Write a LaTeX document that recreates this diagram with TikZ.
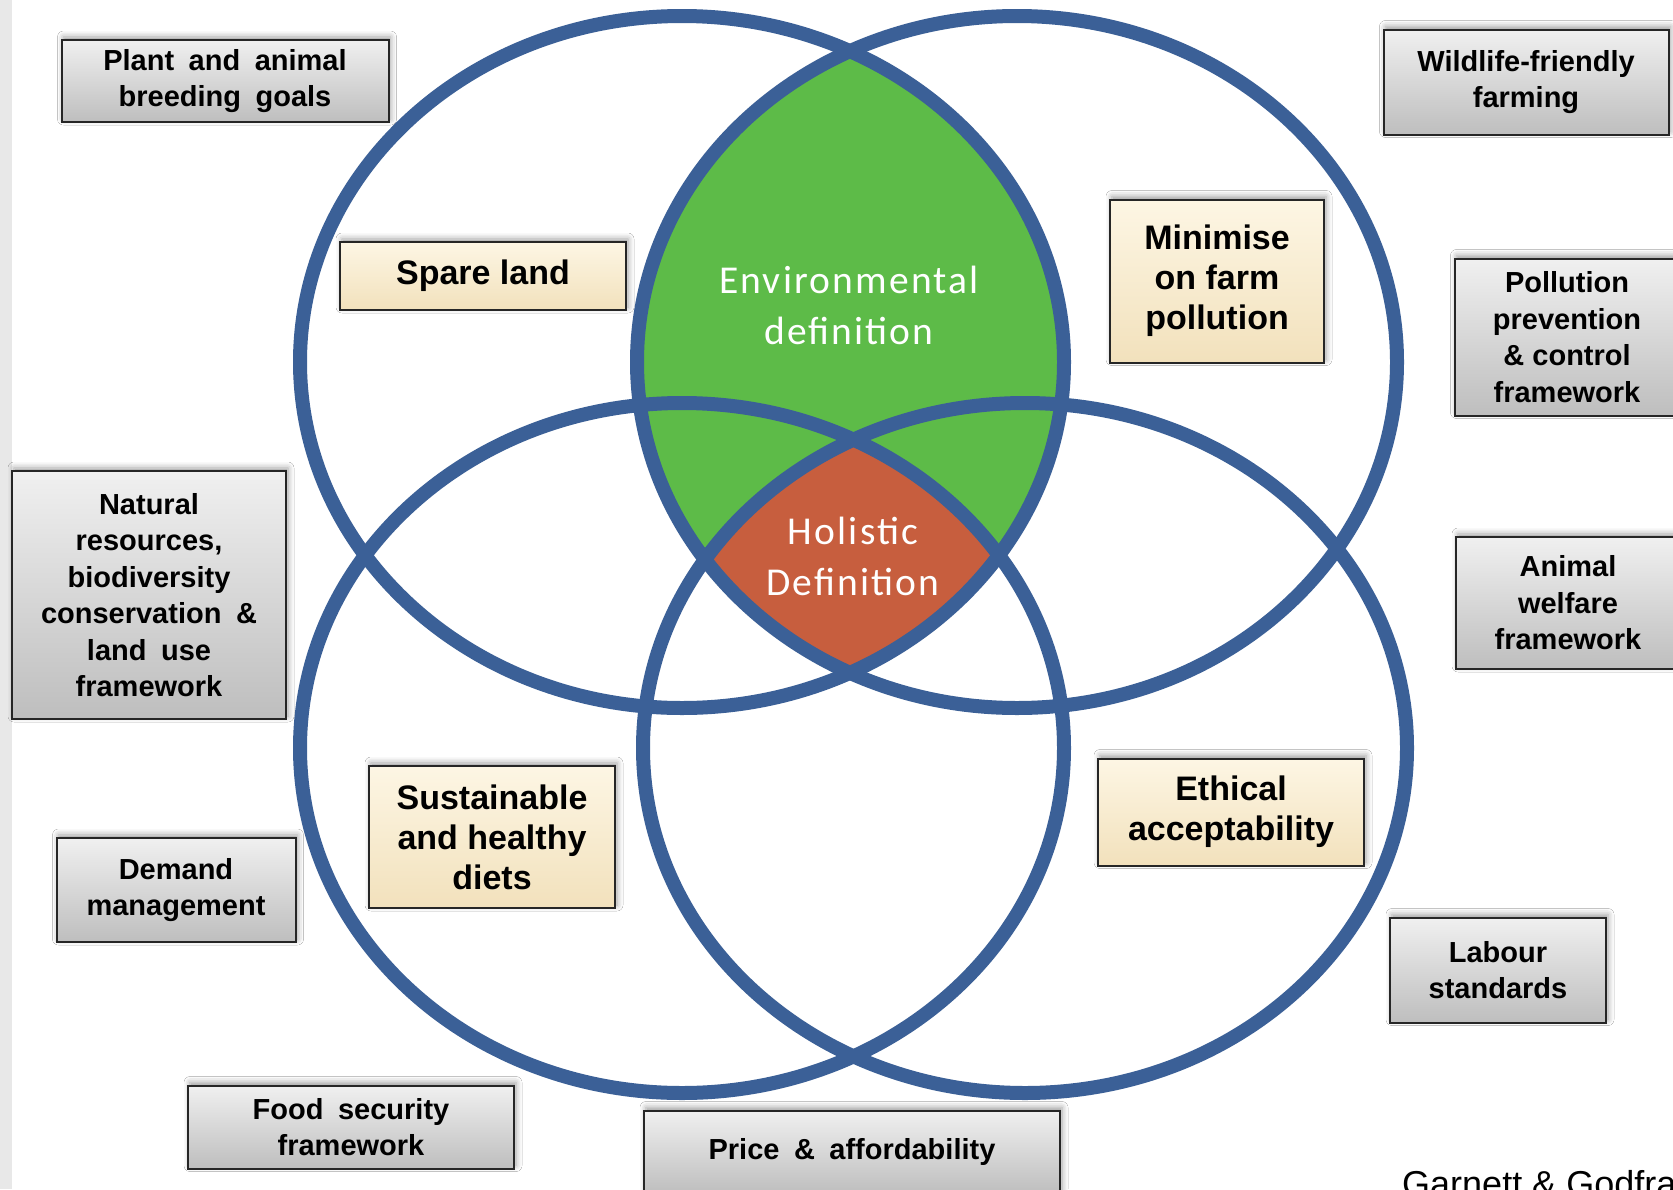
\documentclass[tikz,border=0pt]{standalone}
\usepackage{fontspec}
\setmainfont{Liberation Sans}
\newfontfamily\vennfont[LetterSpace=5.5]{Carlito}
\usetikzlibrary{shadows.blur}

\definecolor{ringblue}{RGB}{59,96,151}
\definecolor{envgreen}{RGB}{93,187,72}
\definecolor{holred}{RGB}{199,94,62}
\definecolor{beigetop}{RGB}{253,246,228}
\definecolor{beigebot}{RGB}{242,225,188}
\definecolor{greytop}{RGB}{240,240,240}
\definecolor{greybot}{RGB}{190,190,190}

\newcommand{\widespaces}{\spaceskip=.5em\relax}
\newcommand{\TopLeft}{(682,362) ellipse [x radius=382, y radius=346]}
\newcommand{\TopRight}{(1017,362) ellipse [x radius=380, y radius=346]}
\newcommand{\BotLeft}{(682,748) ellipse [x radius=382, y radius=345]}
\newcommand{\BotRight}{(1025,748) ellipse [x radius=382, y radius=345]}

\tikzstyle{ring} = [draw=ringblue, line width=14pt]
\tikzstyle{tagbox} = [draw=black!85, line width=2pt, align=center, inner sep=0pt, text=black,
  blur shadow={shadow xshift=2pt, shadow yshift=3pt, shadow blur radius=6pt, shadow opacity=40}]
\tikzstyle{outerbox} = [tagbox, top color=greytop, bottom color=greybot,
  font=\fontsize{29}{36.5}\selectfont\bfseries\widespaces]
\tikzstyle{innerbox} = [tagbox, top color=beigetop, bottom color=beigebot,
  font=\fontsize{34}{40}\selectfont\bfseries]
\tikzstyle{venntext} = [text=white, align=center, font=\vennfont\fontsize{39.5}{51}\selectfont]

\begin{document}
\begin{tikzpicture}[x=1pt, y=-1pt]
\useasboundingbox (0,0) rectangle (1673,1189);
\clip (0,0) rectangle (1673,1189);
\fill[white] (0,0) rectangle (1673,1189);
\fill[black!9] (0,0) rectangle (12,1189);

% shared areas
\begin{scope}
  \clip \TopLeft;
  \fill[envgreen] \TopRight;
\end{scope}
\begin{scope}
  \clip \TopLeft; \clip \TopRight; \clip \BotLeft;
  \fill[holred] \BotRight;
\end{scope}

% rings
\draw[ring] \TopLeft;
\draw[ring] \TopRight;
\draw[ring] \BotLeft;
\draw[ring] \BotRight;

\node[venntext] (envdef) at (849,305) {Environmental\\definition};
\node[venntext] (holdef) at (853,556) {Holistic\\Definition};

% inside the rings
\node[innerbox, minimum width=286pt, minimum height=68pt] (spare) at (483,276) {Spare land};
\node[innerbox, minimum width=214pt, minimum height=163pt] (minimise) at (1217,281) {Minimise\\on farm\\pollution};
\node[innerbox, minimum width=246pt, minimum height=142pt] (diets) at (492,837) {Sustainable\\and healthy\\diets};
\node[innerbox, minimum width=266pt, minimum height=107pt] (ethical) at (1231,812) {Ethical\\acceptability};

% frameworks round the edge
\node[outerbox, minimum width=327pt, minimum height=82pt] (breeding) at (225,81) {Plant and animal\\breeding goals};
\node[outerbox, minimum width=285pt, minimum height=105pt] (wildlife) at (1526,82) {Wildlife-friendly\\farming};
\node[outerbox, minimum width=225pt, minimum height=157pt] (pollution) at (1567,337) {Pollution\\prevention\\\&\hspace{.28em}control\\framework};
\node[outerbox, minimum width=274pt, minimum height=248pt] (natural) at (149,595) {Natural\\resources,\\biodiversity\\conservation \&\\land use\\framework};
\node[outerbox, minimum width=224pt, minimum height=132pt] (welfare) at (1568,603) {Animal\\welfare\\framework};
\node[outerbox, minimum width=239pt, minimum height=104pt] (demand) at (176,890) {Demand\\management};
\node[outerbox, minimum width=216pt, minimum height=105pt] (labour) at (1498,970) {Labour\\standards};
\node[outerbox, minimum width=326pt, minimum height=83pt] (foodsec) at (351,1127) {Food security\\framework};
\node[outerbox, minimum width=416pt, minimum height=83pt] (price) at (852,1152) {Price \& affordability};

\node[anchor=base west, inner sep=0pt, font=\fontsize{36}{40}\selectfont] (source) at (1402,1196) {Garnett \& Godfray};
\end{tikzpicture}
\end{document}
